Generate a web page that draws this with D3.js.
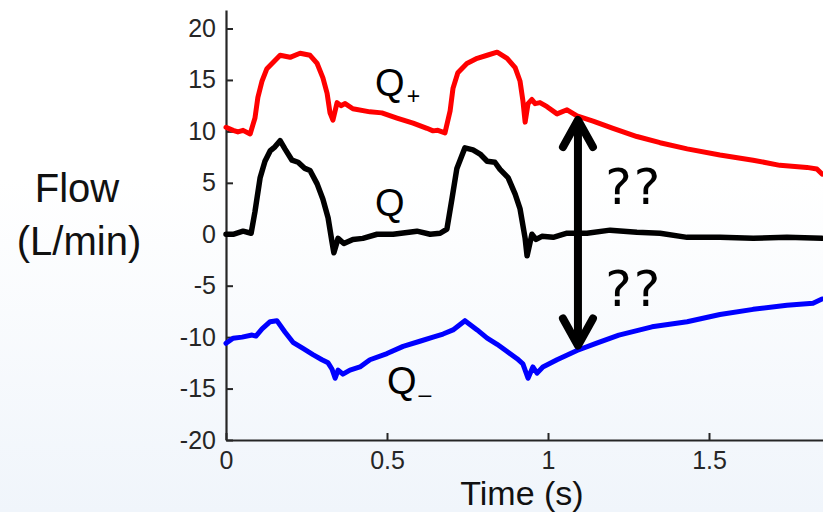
<!DOCTYPE html>
<html>
<head>
<meta charset="utf-8">
<script src="https://unpkg.com/d3@7/dist/d3.min.js"></script>
<style>
  html, body { margin: 0; padding: 0; background: #fff; }
  svg { display: block; }
</style>
</head>
<body>
<div id="chart"></div>
<script>
// Flow traces (time in s, flow in L/min)
const qPlusT = [0, 0.022, 0.037, 0.053, 0.075, 0.090, 0.099, 0.112, 0.127, 0.146, 0.168, 0.199, 0.230, 0.261, 0.283, 0.301, 0.314, 0.323, 0.332, 0.345, 0.357, 0.370, 0.394, 0.447, 0.484, 0.531, 0.581, 0.624, 0.643, 0.658, 0.680, 0.696, 0.705, 0.720, 0.748, 0.780, 0.811, 0.842, 0.873, 0.898, 0.913, 0.922, 0.929, 0.938, 0.950, 0.960, 0.975, 0.997, 1.028, 1.059, 1.090, 1.140, 1.202, 1.276, 1.348, 1.432, 1.534, 1.637, 1.720, 1.804, 1.835, 1.851];
const qPlusV = [10.4, 10.1, 9.95, 10.1, 9.75, 11.3, 13.3, 14.9, 16.1, 16.7, 17.4, 17.2, 17.6, 17.4, 16.6, 15.2, 13.7, 11.8, 11.1, 12.8, 12.5, 12.7, 12.2, 11.9, 11.8, 11.3, 10.8, 10.3, 10.05, 10.1, 9.85, 12.0, 14.2, 15.7, 16.6, 17.1, 17.4, 17.7, 17.1, 16.2, 14.9, 13.0, 10.9, 12.7, 13.1, 12.7, 12.8, 12.4, 11.7, 12.1, 11.5, 11.0, 10.3, 9.5, 8.9, 8.3, 7.7, 7.2, 6.7, 6.5, 6.35, 5.85];

const qT = [0, 0.022, 0.053, 0.078, 0.090, 0.106, 0.121, 0.137, 0.152, 0.168, 0.183, 0.205, 0.224, 0.245, 0.261, 0.283, 0.301, 0.317, 0.329, 0.335, 0.348, 0.366, 0.394, 0.425, 0.469, 0.519, 0.593, 0.634, 0.665, 0.686, 0.702, 0.717, 0.742, 0.767, 0.789, 0.811, 0.835, 0.851, 0.876, 0.898, 0.913, 0.929, 0.935, 0.950, 0.963, 0.981, 1.016, 1.059, 1.121, 1.193, 1.276, 1.348, 1.432, 1.534, 1.637, 1.742, 1.851];
const qV = [0, 0, 0.3, 0.1, 2.2, 5.5, 7.1, 8.1, 8.5, 9.1, 8.3, 7.2, 7.0, 6.4, 6.2, 4.9, 3.4, 1.6, -0.7, -1.8, -0.4, -0.9, -0.5, -0.4, 0, 0, 0.3, 0, 0.1, 0.5, 3.5, 6.4, 8.4, 8.2, 7.8, 7.1, 7.0, 6.3, 5.5, 3.9, 2.5, -0.4, -2.1, 0, -0.5, -0.2, -0.3, 0.1, 0.1, 0.4, 0.2, 0.1, -0.3, -0.3, -0.4, -0.3, -0.4];

const qMinusT = [0, 0.022, 0.050, 0.081, 0.093, 0.112, 0.137, 0.158, 0.183, 0.208, 0.239, 0.270, 0.298, 0.317, 0.329, 0.339, 0.348, 0.363, 0.385, 0.416, 0.447, 0.500, 0.550, 0.602, 0.643, 0.674, 0.705, 0.742, 0.780, 0.811, 0.842, 0.873, 0.904, 0.922, 0.938, 0.953, 0.966, 0.984, 1.028, 1.090, 1.149, 1.220, 1.323, 1.432, 1.534, 1.637, 1.742, 1.823, 1.851];
const qMinusV = [-10.6, -10.1, -10.0, -9.8, -9.9, -9.2, -8.5, -8.4, -9.5, -10.5, -11.1, -11.7, -12.2, -12.5, -13.1, -14.0, -13.2, -13.6, -13.2, -12.9, -12.2, -11.6, -10.9, -10.4, -10.0, -9.7, -9.3, -8.4, -9.3, -10.1, -10.7, -11.4, -12.1, -12.6, -14.0, -12.9, -13.5, -12.9, -12.2, -11.3, -10.6, -9.8, -9.0, -8.5, -7.8, -7.3, -6.9, -6.7, -6.3];

const yTicks = [-20, -15, -10, -5, 0, 5, 10, 15, 20];
const xTicks = [0, 0.5, 1, 1.5];

// annotation anchors in data units
const arrowT = 1.093;
const arrowRange = [-11.2, 11.5];

// Sizes
const width = 823;
const height = 512;
const margin = { left: 226, right: 0, top: 10, bottom: 72 };

const svg = d3.select("#chart")
  .append("svg")
  .attr("width", width)
  .attr("height", height);

// faint bluish wash at the bottom, as in the picture
const grad = svg.append("defs").append("linearGradient")
  .attr("id", "wash")
  .attr("x1", 0).attr("y1", 0).attr("x2", 0).attr("y2", 1);
grad.append("stop").attr("offset", "0.35").attr("stop-color", "#ffffff");
grad.append("stop").attr("offset", "1").attr("stop-color", "#f0f5fb");

svg.append("rect")
  .attr("width", width)
  .attr("height", height)
  .attr("fill", "url(#wash)");

const xScale = d3.scaleLinear()
  .domain([0, 1.854])
  .range([margin.left, width - margin.right]);

const yScale = d3.scaleLinear()
  .domain([-20, 21.8])
  .range([height - margin.bottom, margin.top]);

// Axes
const axisColor = "#262626";

const yAxis = d3.axisLeft(yScale)
  .tickValues(yTicks)
  .tickFormat(d3.format("d"))
  .tickSize(-7)
  .tickSizeOuter(0)
  .tickPadding(10);

const gy = svg.append("g")
  .attr("transform", `translate(${margin.left}, 0)`)
  .call(yAxis);

const xAxis = d3.axisBottom(xScale)
  .tickValues(xTicks)
  .tickFormat(d => String(d))
  .tickSize(-7)
  .tickSizeOuter(0)
  .tickPadding(11);

const gx = svg.append("g")
  .attr("transform", `translate(0, ${height - margin.bottom})`)
  .call(xAxis);

[gx, gy].forEach(g => {
  g.select(".domain").attr("stroke", axisColor).attr("stroke-width", 2.2);
  g.selectAll(".tick line").attr("stroke", axisColor).attr("stroke-width", 2);
  g.selectAll(".tick text")
    .attr("fill", axisColor)
    .style("font-family", "'Liberation Sans', Arial, sans-serif")
    .style("font-size", "25px");
});
gy.selectAll(".tick text").text(d => d < 0 ? "-" + Math.abs(d) : d);

// Axis titles
const titleFont = "'Liberation Sans', Arial, sans-serif";

svg.append("text")
  .attr("x", 77)
  .attr("y", 202)
  .attr("text-anchor", "middle")
  .style("font-family", titleFont)
  .style("font-size", "40px")
  .attr("fill", "#111")
  .text("Flow");

svg.append("text")
  .attr("x", 79)
  .attr("y", 255)
  .attr("text-anchor", "middle")
  .style("font-family", titleFont)
  .style("font-size", "40px")
  .attr("fill", "#111")
  .text("(L/min)");

svg.append("text")
  .attr("x", 522)
  .attr("y", 505)
  .attr("text-anchor", "middle")
  .style("font-family", titleFont)
  .style("font-size", "34px")
  .attr("fill", "#111")
  .text("Time (s)");

// Lines
const line = d3.line()
  .x(d => xScale(d[0]))
  .y(d => yScale(d[1]))
  .curve(d3.curveLinear);

const series = [
  { t: qPlusT, v: qPlusV, color: "#ff0000", w: 5 },
  { t: qT, v: qV, color: "#000000", w: 5.5 },
  { t: qMinusT, v: qMinusV, color: "#0000ff", w: 5 }
];

svg.selectAll("path.trace")
  .data(series)
  .enter()
  .append("path")
  .attr("class", "trace")
  .attr("d", s => line(s.t.map((t, i) => [t, s.v[i]])))
  .attr("fill", "none")
  .attr("stroke", d => d.color)
  .attr("stroke-width", d => d.w)
  .attr("stroke-linejoin", "round")
  .attr("stroke-linecap", "round");

// Labels Q+, Q, Q-
const labels = [
  { t: 0.463, v: 13.4, sub: "+" },
  { t: 0.463, v: 1.75, sub: "" },
  { t: 0.500, v: -15.5, sub: "\u2013" }
];

labels.forEach(l => {
  const txt = svg.append("text")
    .attr("x", xScale(l.t))
    .attr("y", yScale(l.v))
    .style("font-family", titleFont)
    .style("font-size", "38px")
    .attr("fill", "#000");
  txt.append("tspan").text("Q");
  if (l.sub) {
    txt.append("tspan")
      .attr("dx", 2)
      .attr("dy", 8)
      .style("font-size", "23px")
      .text(l.sub);
  }
});

// Double-headed arrow
const ax = xScale(arrowT);
const yTop = yScale(arrowRange[1]);
const yBot = yScale(arrowRange[0]);

svg.append("line")
  .attr("x1", ax).attr("x2", ax)
  .attr("y1", yTop + 4).attr("y2", yBot - 4)
  .attr("stroke", "#000")
  .attr("stroke-width", 8);

[[yTop + 31, yTop + 4], [yBot - 31, yBot - 4]].forEach(([yArm, yTip]) => {
  svg.append("path")
    .attr("d", `M${ax - 15},${yArm} L${ax},${yTip} L${ax + 15},${yArm}`)
    .attr("fill", "none")
    .attr("stroke", "#000")
    .attr("stroke-width", 8)
    .attr("stroke-linecap", "round")
    .attr("stroke-linejoin", "round");
});

// question marks
[2.9, -7.0].forEach(v => {
  svg.append("text")
    .attr("x", xScale(1.178))
    .attr("y", yScale(v))
    .style("font-family", "'DejaVu Sans', sans-serif")
    .style("font-size", "50px")
    .style("letter-spacing", "2px")
    .attr("fill", "#000")
    .text("??");
});
</script>
</body>
</html>
